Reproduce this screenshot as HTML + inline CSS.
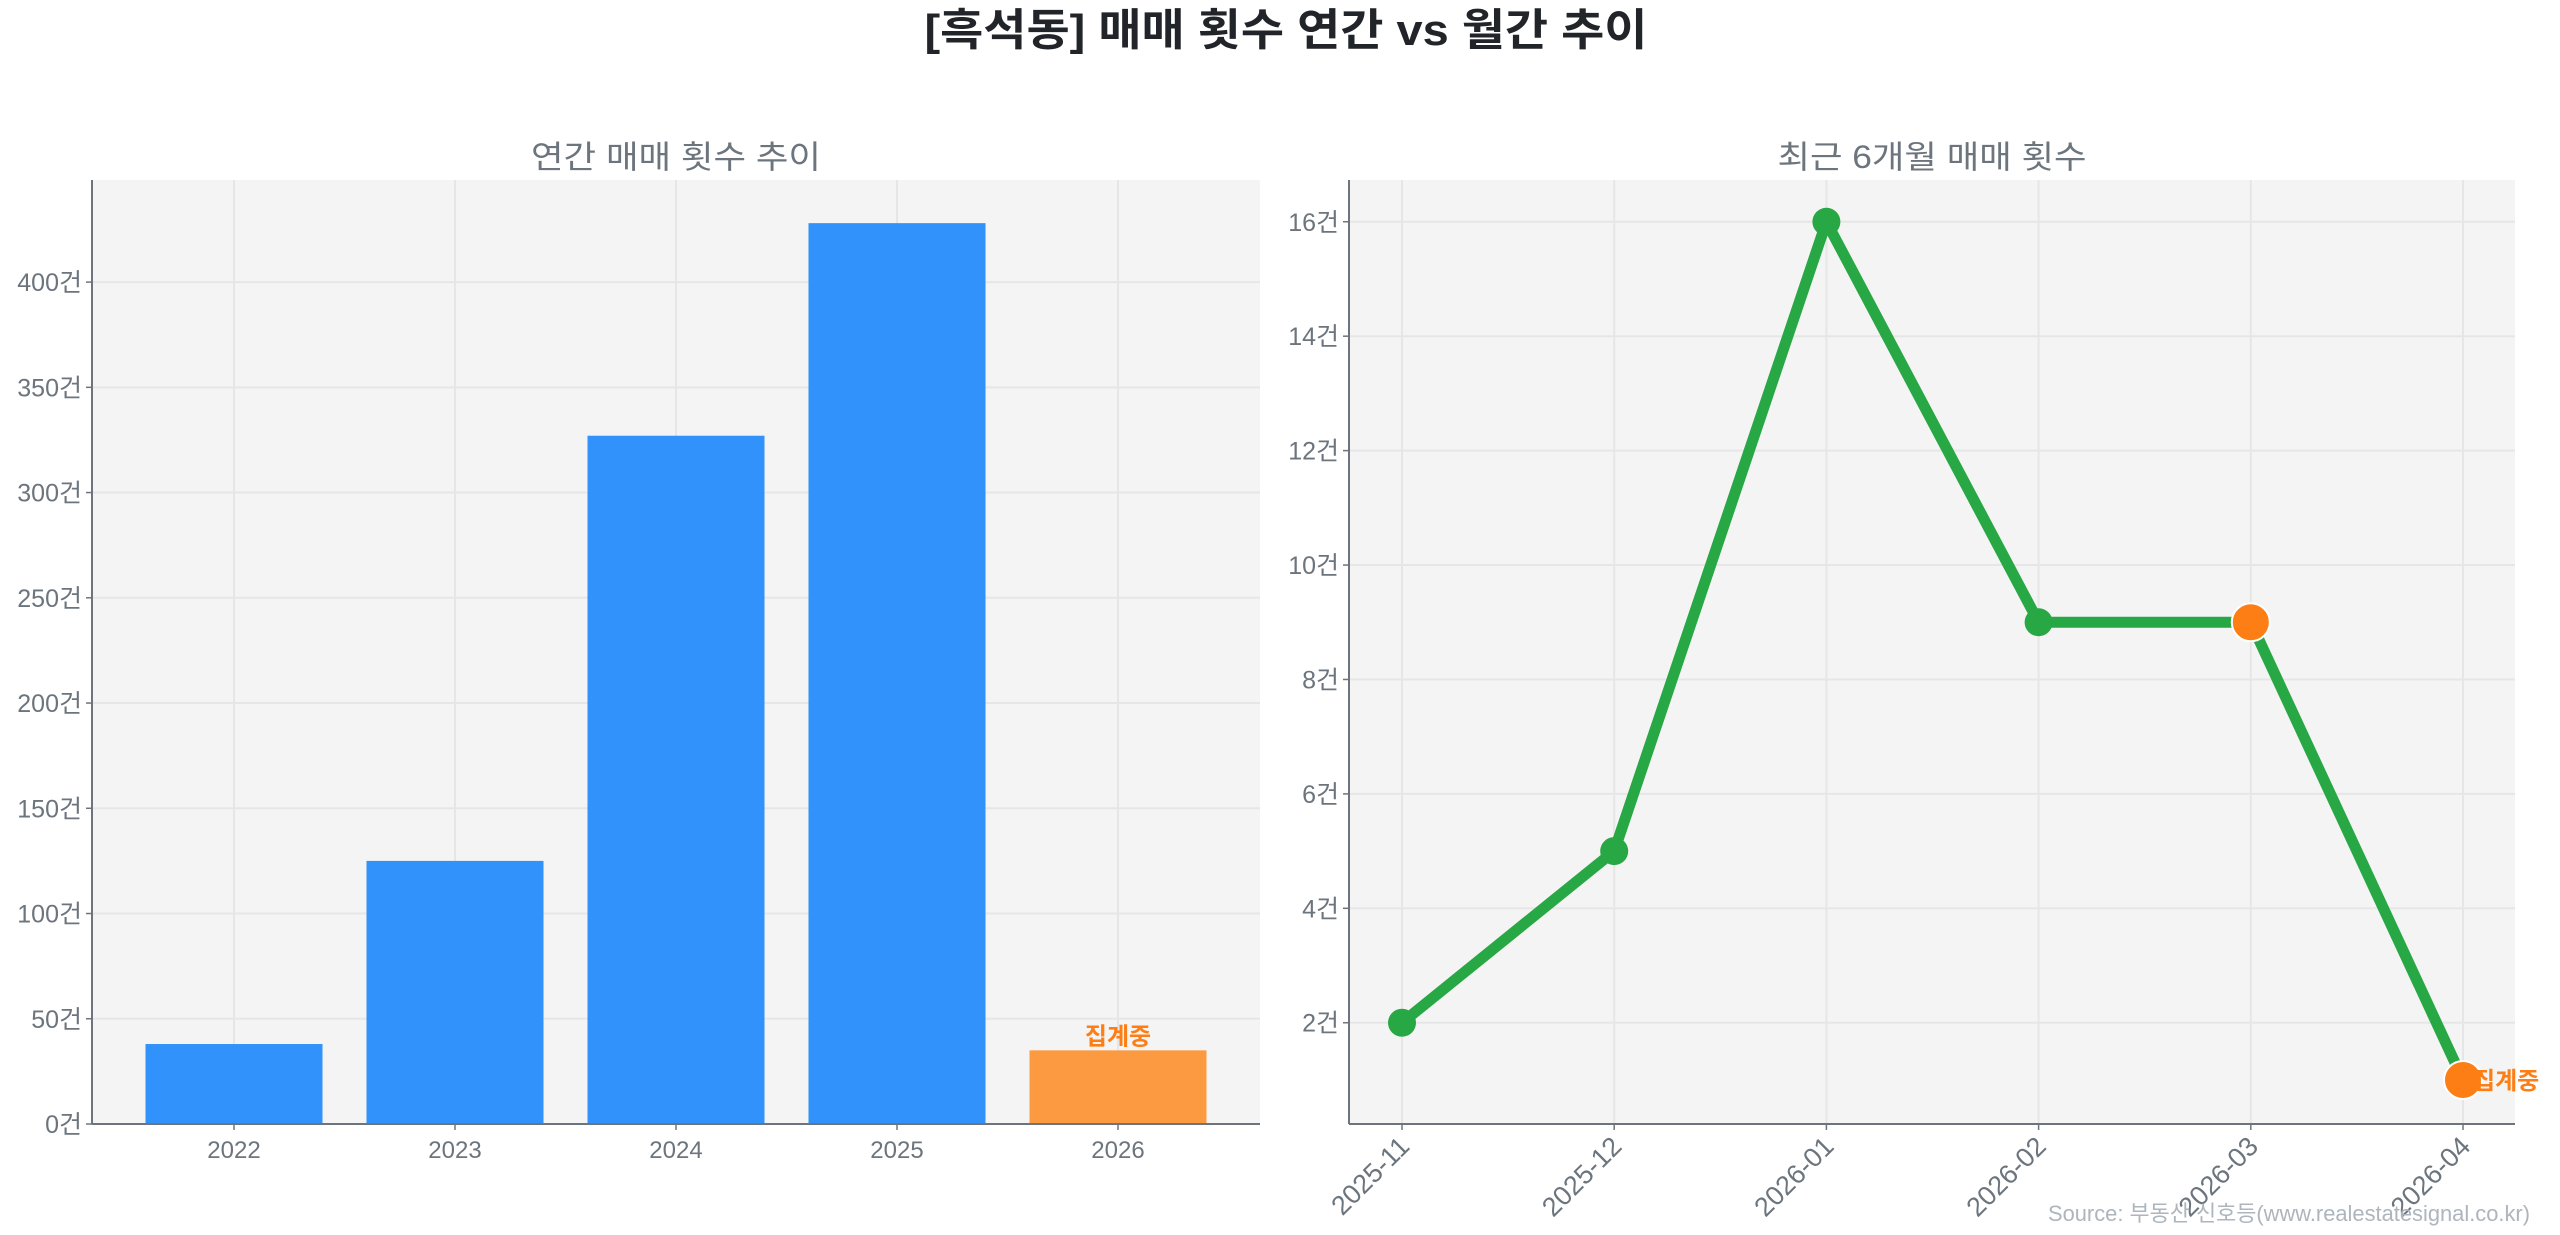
<!DOCTYPE html>
<html><head><meta charset="utf-8">
<style>
html,body{margin:0;padding:0;background:#fff;}
svg{display:block;font-family:"Liberation Sans","Noto Sans CJK KR",sans-serif;}
</style></head>
<body>
<svg id="chart" width="2560" height="1235" viewBox="0 0 2560 1235" xmlns="http://www.w3.org/2000/svg">
<text x="1286" y="45" text-anchor="middle" font-size="44" font-weight="bold" fill="#212529" textLength="723" lengthAdjust="spacingAndGlyphs">[흑석동] 매매 횟수 연간 vs 월간 추이</text>
<g id="left"></g>
<g id="right"></g>
<text x="2530" y="1221" text-anchor="end" font-size="22" fill="#adb5bd" textLength="482" lengthAdjust="spacingAndGlyphs">Source: 부동산 신호등(www.realestatesignal.co.kr)</text>
</svg>
<script>
const years = ['2022','2023','2024','2025','2026'];
const yearCounts = [38, 125, 327, 428, 35];
const yearTicks = [0, 50, 100, 150, 200, 250, 300, 350, 400];
const months = ['2025-11','2025-12','2026-01','2026-02','2026-03','2026-04'];
const monthCounts = [2, 5, 16, 9, 9, 1];
const monthTicks = [2, 4, 6, 8, 10, 12, 14, 16];
const partialYearIdx = [4];
const partialMonthIdx = [4, 5];

const NS = 'http://www.w3.org/2000/svg';
function mk(parent, tag, attrs, text) {
  const e = document.createElementNS(NS, tag);
  for (const k in attrs) e.setAttribute(k, attrs[k]);
  if (text !== undefined) e.textContent = text;
  parent.appendChild(e);
  return e;
}
const gray = '#6c757d';

// ---------- LEFT: bar chart ----------
(function(){
  const g = document.getElementById('left');
  const L = 92, R = 1260, T = 180, B = 1124;
  const yMax = 448.5;
  const y = v => B - v / yMax * (B - T);
  const step = 221, x0 = 234;
  const x = i => x0 + i * step;
  let e = mk(g, 'rect', {x: L, y: T, width: R - L, height: B - T, fill: '#f4f4f4'});
  
  
  yearTicks.forEach(t => {
    e = mk(g, 'line', {x1: L, x2: R, y1: y(t), y2: y(t), stroke: '#e6e6e6', 'stroke-width': 2});
    
    
    e = mk(g, 'line', {x1: L - 6, x2: L, y1: y(t), y2: y(t), stroke: gray, 'stroke-width': 1.5});
    
    
    e = mk(g, 'text', {x: L - 10, y: y(t) + 9, 'text-anchor': 'end', 'font-size': 25, fill: gray}, t + '건');
    
    
  });
  years.forEach((yr, i) => {
    e = mk(g, 'line', {x1: x(i), x2: x(i), y1: T, y2: B, stroke: '#e6e6e6', 'stroke-width': 2});
    
    
  });
  years.forEach((yr, i) => {
    const partial = partialYearIdx.includes(i);
    e = mk(g, 'rect', {x: x(i) - 88.5, y: y(yearCounts[i]), width: 177, height: B - y(yearCounts[i]), fill: partial ? '#fb9a40' : '#3092fa'});
    
    
    e = mk(g, 'line', {x1: x(i), x2: x(i), y1: B, y2: B + 6, stroke: gray, 'stroke-width': 1.5});
    
    
    e = mk(g, 'text', {x: x(i), y: B + 34, 'text-anchor': 'middle', 'font-size': 24, fill: gray}, yr);
    
    
    if (partial) {
      e = mk(g, 'text', {x: x(i), y: y(yearCounts[i]) - 6, 'text-anchor': 'middle', 'font-size': 24, 'font-weight': 'bold', fill: '#fd7e14'}, '집계중');
      
      
    }
  });
  e = mk(g, 'line', {x1: L, x2: L, y1: T, y2: B, stroke: gray, 'stroke-width': 2});
  
  
  e = mk(g, 'line', {x1: L, x2: R, y1: B, y2: B, stroke: gray, 'stroke-width': 2});
  
  
  e = mk(g, 'text', {x: 676, y: 168, 'text-anchor': 'middle', 'font-size': 32, fill: gray, textLength: 290, lengthAdjust: 'spacingAndGlyphs'}, '연간 매매 횟수 추이');
  
  
})();

// ---------- RIGHT: line chart ----------
(function(){
  const g = document.getElementById('right');
  const L = 1349, R = 2515, T = 180, B = 1124;
  const yMin = 0.23, yMax = 16.73;
  const y = v => B - (v - yMin) / (yMax - yMin) * (B - T);
  const x0 = 1402, step = 212.2;
  const x = i => x0 + i * step;
  let e = mk(g, 'rect', {x: L, y: T, width: R - L, height: B - T, fill: '#f4f4f4'});
  
  
  monthTicks.forEach(t => {
    e = mk(g, 'line', {x1: L, x2: R, y1: y(t), y2: y(t), stroke: '#e6e6e6', 'stroke-width': 2});
    
    
    e = mk(g, 'line', {x1: L - 6, x2: L, y1: y(t), y2: y(t), stroke: gray, 'stroke-width': 1.5});
    
    
    e = mk(g, 'text', {x: L - 10, y: y(t) + 9, 'text-anchor': 'end', 'font-size': 25, fill: gray}, t + '건');
    
    
  });
  months.forEach((m, i) => {
    e = mk(g, 'line', {x1: x(i), x2: x(i), y1: T, y2: B, stroke: '#e6e6e6', 'stroke-width': 2});
    
    
    e = mk(g, 'line', {x1: x(i), x2: x(i), y1: B, y2: B + 6, stroke: gray, 'stroke-width': 1.5});
    
    
    e = mk(g, 'text', {x: x(i) + 9, y: B + 24, 'text-anchor': 'end', 'font-size': 27, fill: gray, transform: 'rotate(-45 ' + (x(i) + 9) + ' ' + (B + 24) + ')'}, m);
    
    
  });
  const pts = monthCounts.map((v, i) => x(i) + ',' + y(v)).join(' ');
  e = mk(g, 'polyline', {points: pts, fill: 'none', stroke: '#28a745', 'stroke-width': 11, 'stroke-linejoin': 'round'});
  
  
  monthCounts.forEach((v, i) => {
    const partial = partialMonthIdx.includes(i);
    e = mk(g, 'circle', {cx: x(i), cy: y(v), r: partial ? 19 : 14, fill: partial ? '#fd7e14' : '#28a745', stroke: partial ? '#fff' : 'none', 'stroke-width': 2});
    
    
  });
  const last = monthCounts.length - 1;
  e = mk(g, 'text', {x: x(last) + 10, y: y(monthCounts[last]) + 9, 'font-size': 24, 'font-weight': 'bold', fill: '#fd7e14'}, '집계중');
  
  
  e = mk(g, 'line', {x1: L, x2: L, y1: T, y2: B, stroke: gray, 'stroke-width': 2});
  
  
  e = mk(g, 'line', {x1: L, x2: R, y1: B, y2: B, stroke: gray, 'stroke-width': 2});
  
  
  e = mk(g, 'text', {x: 1932, y: 168, 'text-anchor': 'middle', 'font-size': 32, fill: gray, textLength: 309, lengthAdjust: 'spacingAndGlyphs'}, '최근 6개월 매매 횟수');
  
  
})();
</script>
</body></html>
